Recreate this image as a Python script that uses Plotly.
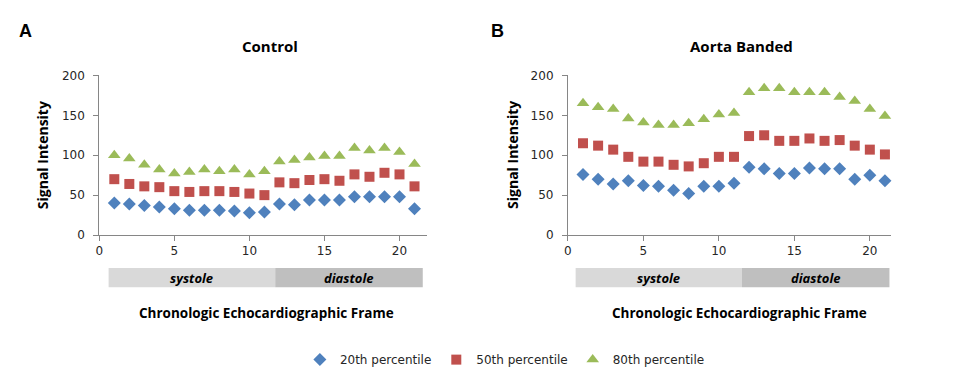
import plotly.graph_objects as go

W, H = 953, 383

frames = list(range(1, 22))

# Control panel (A)
ctrl_p20 = [40, 39, 37, 35, 33, 31, 31, 31, 30, 28, 29, 39, 38, 44, 44, 44, 48, 48, 48, 48, 33]
ctrl_p50 = [70, 64, 61, 60, 55, 54, 55, 55, 54, 52, 50, 66, 65, 69, 70, 68, 76, 73, 78, 76, 61]
ctrl_p80 = [100, 96, 88, 82, 77, 79, 82, 80, 82, 76, 80, 92, 94, 97, 99, 99, 109, 106, 109, 104, 89]

# Aorta banded panel (B)
band_p20 = [76, 70, 64, 68, 62, 61, 56, 52, 61, 61, 65, 85, 83, 77, 77, 84, 83, 83, 70, 75, 68]
band_p50 = [115, 112, 107, 98, 92, 92, 88, 86, 90, 98, 98, 124, 125, 118, 118, 121, 118, 119, 112, 107, 101]
band_p80 = [165, 160, 158, 146, 141, 138, 138, 140, 145, 151, 153, 179, 184, 184, 179, 179, 179, 173, 168, 158, 149]

series_names = ["20th percentile", "50th percentile", "80th percentile"]
series_colors = ["#4f81bd", "#c0504d", "#9bbb59"]
series_symbols = ["diamond", "square", "triangle-up"]
series_sizes = [10, 10, 11]

panel_titles = ["Control", "Aorta Banded"]
panel_letters = ["A", "B"]
y_title = "Signal Intensity"
x_title = "Chronologic Echocardiographic Frame"
y_ticks = [0, 50, 100, 150, 200]
x_ticks = [0, 5, 10, 15, 20]

# cardiac phase bands (frame units)
phase_names = ["systole", "diastole"]
phase_colors = ["#d9d9d9", "#bfbfbf"]
ctrl_phase_bounds = [0.62, 11.72, 21.55]
band_phase_bounds = [0.51, 11.53, 21.3]

ctrl_xmax = 21.8
band_xmax = 21.4

fig = go.Figure()

panels = [
    (ctrl_p20, ctrl_p50, ctrl_p80),
    (band_p20, band_p50, band_p80),
]

for pi, data in enumerate(panels):
    xa = "x" if pi == 0 else "x2"
    ya = "y" if pi == 0 else "y2"
    for si, vals in enumerate(data):
        fig.add_trace(go.Scatter(
            x=frames, y=vals, mode="markers", name=series_names[si],
            marker=dict(symbol=series_symbols[si], size=series_sizes[si],
                        color=series_colors[si], line=dict(width=0)),
            xaxis=xa, yaxis=ya, showlegend=(pi == 0), cliponaxis=False,
        ))

def px(x):
    return x / W

def py(y):
    return 1 - y / H

tick_font = dict(family="DejaVu Sans, Verdana, sans-serif", size=12, color="#262626")
axis_common = dict(
    showline=True, linecolor="#868686", linewidth=1, showgrid=False, zeroline=False,
    ticks="outside", ticklen=5, tickcolor="#868686", tickwidth=1,
    tickfont=tick_font,
)

ydom = [py(236.7), py(71)]
fig.update_layout(
    width=W, height=H,
    margin=dict(l=0, r=0, t=0, b=0),
    paper_bgcolor="white", plot_bgcolor="white",
    xaxis=dict(domain=[px(95.7), px(424.3)], range=[0, ctrl_xmax], tickvals=x_ticks,
               anchor="y", **axis_common),
    yaxis=dict(domain=ydom, range=[0, 200], tickvals=y_ticks, anchor="x",
               ticklabelstandoff=6, **axis_common),
    xaxis2=dict(domain=[px(566.3), px(890.7)], range=[0, band_xmax], tickvals=x_ticks,
                anchor="y2", **axis_common),
    yaxis2=dict(domain=ydom, range=[0, 200], tickvals=y_ticks, anchor="x2",
                ticklabelstandoff=6, **axis_common),
    legend=dict(orientation="h", x=px(503), xanchor="center", y=py(366), yanchor="middle",
                font=dict(family="DejaVu Sans, Verdana, sans-serif", size=12, color="#262626"),
                itemwidth=30, tracegroupgap=0, bgcolor="rgba(0,0,0,0)"),
    showlegend=True,
)

bold_font = dict(family="Open Sans, Lato, sans-serif", size=13, color="black")

anns = []
shapes = []
for pi in range(2):
    xref = "x" if pi == 0 else "x2"
    bounds = ctrl_phase_bounds if pi == 0 else band_phase_bounds
    for k in range(2):
        shapes.append(dict(type="rect", xref=xref, yref="paper",
                           x0=bounds[k], x1=bounds[k + 1], y0=py(291), y1=py(271),
                           fillcolor=phase_colors[k], line=dict(width=0), layer="below"))
        anns.append(dict(xref=xref, yref="paper", x=(bounds[k] + bounds[k + 1]) / 2, y=py(281),
                         text="<b><i>" + phase_names[k] + "</i></b>", showarrow=False,
                         font=bold_font, xanchor="center", yanchor="middle"))

title_x = [266.7, 741]
ytitle_x = [39, 510.7]
letter_x = [22, 496]
xtitle_x = [264, 739]
for pi in range(2):
    anns.append(dict(xref="paper", yref="paper", x=px(title_x[pi]), y=py(40),
                     text="<b>" + panel_titles[pi] + "</b>", showarrow=False,
                     font=dict(family="Open Sans, Lato, sans-serif", size=15, color="black"),
                     xanchor="center", yanchor="middle"))
    anns.append(dict(xref="paper", yref="paper", x=px(ytitle_x[pi]), y=py(154),
                     text="<b>" + y_title + "</b>", showarrow=False, textangle=-90,
                     font=dict(family="Open Sans, Lato, sans-serif", size=14, color="black"),
                     xanchor="center", yanchor="middle"))
    anns.append(dict(xref="paper", yref="paper", x=px(letter_x[pi]), y=py(25),
                     text="<b>" + panel_letters[pi] + "</b>", showarrow=False,
                     font=dict(family="Liberation Sans, Arial, sans-serif", size=18, color="black"),
                     xanchor="center", yanchor="middle"))
    anns.append(dict(xref="paper", yref="paper", x=px(xtitle_x[pi]), y=py(318),
                     text="<b>" + x_title + "</b>", showarrow=False,
                     font=dict(family="Open Sans, Lato, sans-serif", size=13.5, color="black"),
                     xanchor="center", yanchor="middle"))

fig.update_layout(annotations=anns, shapes=shapes)

fig.write_html("out.html", config={"displayModeBar": False},
               post_script="document.body.style.margin='0';document.body.style.overflow='hidden';")
